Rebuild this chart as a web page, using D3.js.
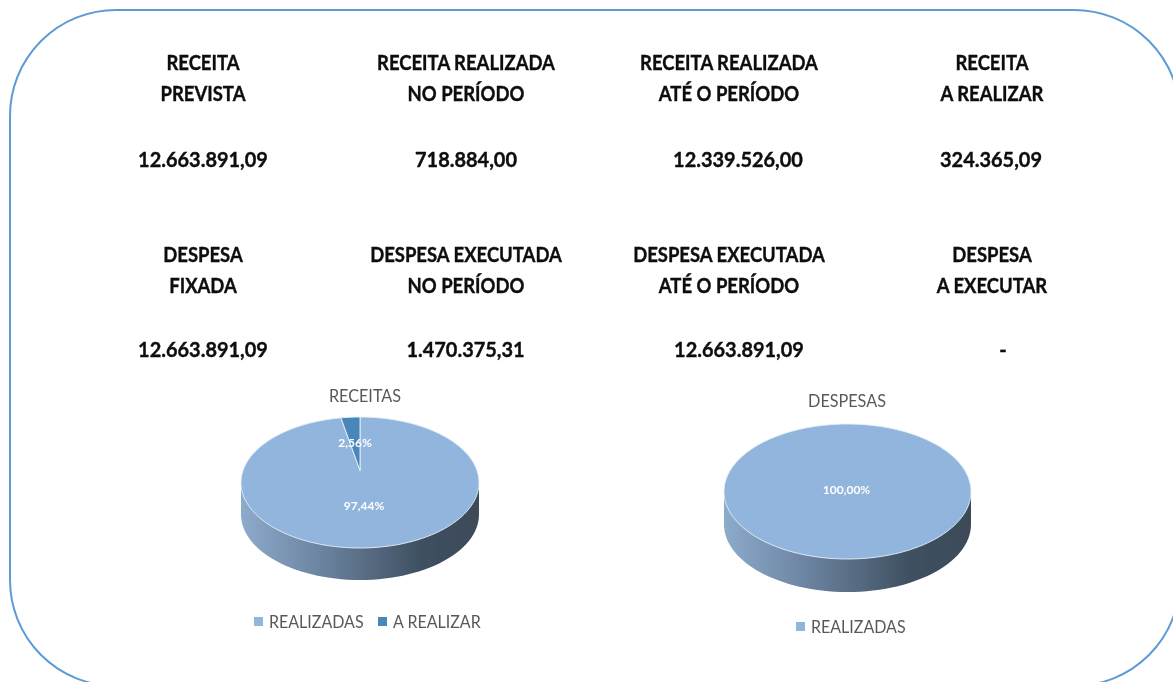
<!DOCTYPE html>
<html>
<head>
<meta charset="utf-8">
<title>Receitas e despesas</title>
<script src="https://cdnjs.cloudflare.com/ajax/libs/d3/7.8.5/d3.min.js"></script>
<style>
    html, body { margin: 0; padding: 0; background: #fff; }
    svg { display: block; }
    text { font-family: Lato, "Open Sans", sans-serif; }
</style>
</head>
<body>
<div id="chart"></div>
<script>
// summary table
var receitaHeads = [["RECEITA", "PREVISTA"], ["RECEITA REALIZADA", "NO PERÍODO"], ["RECEITA REALIZADA", "ATÉ O PERÍODO"], ["RECEITA", "A REALIZAR"]];
var receitaValues = ["12.663.891,09", "718.884,00", "12.339.526,00", "324.365,09"];
var despesaHeads = [["DESPESA", "FIXADA"], ["DESPESA EXECUTADA", "NO PERÍODO"], ["DESPESA EXECUTADA", "ATÉ O PERÍODO"], ["DESPESA", "A EXECUTAR"]];
var despesaValues = ["12.663.891,09", "1.470.375,31", "12.663.891,09", "-"];

// pies
var receitaCats = ["REALIZADAS", "A REALIZAR"];
var receitaPct = [97.44, 2.56];
var receitaLabels = ["97,44%", "2,56%"];
var despesaCats = ["REALIZADAS"];
var despesaPct = [100];
var despesaLabels = ["100,00%"];

var W = 1173, H = 682;
var colors = ["#92b5dd", "#4a86b9"];
var colX = [203, 466, 729, 992];
var valueX = [203, 466, 738, 991];
var valueX2 = [203, 465.5, 739, 1003];

var svg = d3.select("#chart").append("svg").attr("width", W).attr("height", H);
var defs = svg.append("defs");

// source picture is a soft screenshot
defs.append("filter").attr("id", "soft")
    .attr("x", 0).attr("y", 0).attr("width", 1).attr("height", 1)
    .attr("filterUnits", "userSpaceOnUse")
    .attr("width", W).attr("height", H)
    .append("feGaussianBlur").attr("stdDeviation", 0.7);

var grad = defs.append("linearGradient").attr("id", "side");
[[0, "#8dabcb"], [0.3, "#6f88a6"], [0.55, "#55697f"], [0.75, "#3f5062"], [1, "#3c4b58"]].forEach(function(s){
    grad.append("stop").attr("offset", s[0]).attr("stop-color", s[1]);
});

var g = svg.append("g").attr("filter", "url(#soft)");

g.append("rect")
    .attr("x", 10).attr("y", 10).attr("width", 1170).attr("height", 676)
    .attr("rx", 106).attr("ry", 106)
    .attr("fill", "none").attr("stroke", "#5b9bd5").attr("stroke-width", 2);

// text squeezed sideways around x, the original font is narrower than Lato
function squeezed(sel, x, y, sx, str){
    return sel.append("text")
        .attr("transform", "translate(" + x + "," + y + ") scale(" + sx + ",1)")
        .text(str);
}

function block(heads, values, xs, y1, y2, y3){
    var sel = g.append("g").attr("font-weight", 700).attr("font-size", 21)
        .attr("fill", "#0a0a0a").attr("stroke", "#0a0a0a").attr("stroke-width", 0.35)
        .attr("text-anchor", "middle");
    heads.forEach(function(h, i){
        squeezed(sel, colX[i], y1, 0.88, h[0]);
        squeezed(sel, colX[i], y2, 0.88, h[1]);
        squeezed(sel, xs[i], y3, 0.95, values[i]);
    });
}
block(receitaHeads, receitaValues, valueX, 70, 101, 167);
block(despesaHeads, despesaValues, valueX2, 262, 293, 357);

// one pie: top ellipse plus the extruded side. tipDy moves the slice tip up, like the perspective in the picture
function pie3d(o){
    var rx = d3.scaleLinear().domain([0, 1]).range([0, o.rx]);
    var ry = d3.scaleLinear().domain([0, 1]).range([0, o.ry]);
    var p = g.append("g");

    var sideArc = d3.range(0, 61).map(function(i){
        var a = Math.PI * i / 60;
        return [o.cx + rx(Math.cos(a)), o.cy + o.depth + ry(Math.sin(a))];
    });
    var sidePts = [[o.cx + o.rx, o.cy]].concat(sideArc, [[o.cx - o.rx, o.cy]]);
    p.append("path").attr("d", d3.line()(sidePts)).attr("fill", "url(#side)");

    var slices = d3.pie().sort(null).startAngle(0).endAngle(2 * Math.PI)(o.values);
    // first value runs clockwise from the top, the small one closes the circle before 12 o'clock
    p.selectAll(".slice").data(slices).enter().append("path")
        .attr("class", "slice")
        .attr("d", function(d){
            var n = Math.max(2, Math.ceil((d.endAngle - d.startAngle) * 40));
            var pts = d3.range(n + 1).map(function(i){
                var a = d.startAngle + (d.endAngle - d.startAngle) * i / n;
                return [o.cx + rx(Math.sin(a)), o.cy - ry(Math.cos(a))];
            });
            if (o.values.length > 1) pts.push([o.cx, o.cy - o.tipDy]);
            return d3.line()(pts) + "Z";
        })
        .attr("fill", function(d, i){ return colors[i]; })
        .attr("stroke", "#e8f0f8").attr("stroke-width", 0.9);

    p.selectAll(".lab").data(slices).enter().append("text")
        .attr("class", "lab")
        .attr("x", function(d, i){ return o.labelX[i]; })
        .attr("y", function(d, i){ return o.labelY[i]; })
        .attr("text-anchor", "middle").attr("font-size", 12).attr("font-weight", 700)
        .attr("fill", "#fff")
        .text(function(d, i){ return o.labels[i]; });

    var t = p.append("g").attr("text-anchor", "middle").attr("font-size", 18).attr("fill", "#595959");
    squeezed(t, o.titleX, o.titleY, 0.9, o.title);

    o.cats.forEach(function(c, i){
        p.append("rect").attr("x", o.legX[i]).attr("y", o.legY - 11).attr("width", 9).attr("height", 9)
            .attr("fill", colors[i]);
        var l = p.append("g").attr("font-size", 18).attr("fill", "#595959");
        squeezed(l, o.legX[i] + 15, o.legY, 0.89, c);
    });
}

pie3d({cx: 360, cy: 482.5, rx: 119, ry: 65.5, depth: 32, tipDy: 12,
    values: receitaPct, labels: receitaLabels, cats: receitaCats, title: "RECEITAS",
    labelX: [364, 355], labelY: [510, 447], titleX: 365, titleY: 402, legX: [254, 378], legY: 628});
pie3d({cx: 847.5, cy: 491.5, rx: 123.5, ry: 67.5, depth: 33, tipDy: 0,
    values: despesaPct, labels: despesaLabels, cats: despesaCats, title: "DESPESAS",
    labelX: [846.5], labelY: [494], titleX: 847, titleY: 407, legX: [796], legY: 633});
</script>
</body>
</html>
